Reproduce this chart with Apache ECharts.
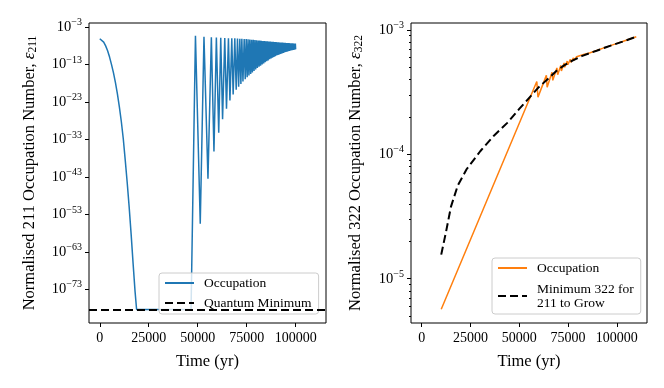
<!DOCTYPE html>
<html>
<head>
<meta charset="utf-8">
<script src="https://cdn.jsdelivr.net/npm/echarts@6/dist/echarts.min.js"></script>
<style>
  html, body { margin: 0; padding: 0; background: #fff; }
  #chart { width: 664px; height: 388px; }
</style>
</head>
<body>
<div id="chart"></div>
<script>
// all occupation values are stored as log10(value)
const timeTicks = [0, 25000, 50000, 75000, 100000];
const leftTicksExp = [-73, -63, -53, -43, -33, -23, -13, -3];
const rightTicksExp = [-5, -4, -3];
const rightMinorTicks = [5e-6, 6e-6, 7e-6, 8e-6, 9e-6,
  2e-5, 3e-5, 4e-5, 5e-5, 6e-5, 7e-5, 8e-5, 9e-5,
  2e-4, 3e-4, 4e-4, 5e-4, 6e-4, 7e-4, 8e-4, 9e-4];

const quantumMinLog = -78.4;

// 211 occupation: [time (yr), log10 eps]
const occ211 = [
  [0, -6.1], [1000, -6.4], [2000, -7.0], [3000, -8.0], [4000, -9.3], [5000, -11.0],
  [6000, -13.0], [7000, -15.2], [8000, -17.8], [9000, -20.8], [10000, -24.3],
  [11000, -28.2], [12000, -32.8], [13000, -38.5], [14000, -44.5], [15000, -51.0],
  [16000, -58.2], [17000, -66.0], [18000, -73.5], [18800, -78.4],
  [46600, -78.4], [48850, -5.3],
  [51300, -55.5], [53200, -5.6], [55240, -43.5], [56970, -5.7], [58300, -36.2],
  [59530, -5.8], [60730, -31.2], [61760, -5.85], [62700, -27.6], [63810, -5.9],
  [64700, -24.8], [65690, -5.95], [66450, -22.6], [67400, -6.0], [68100, -21.0],
  [68940, -6.0], [69650, -19.7], [70310, -6.05], [70900, -18.9], [71510, -6.1],
  [72050, -18.2], [72540, -6.1], [73100, -17.5], [73730, -6.15], [74250, -16.9],
  [74760, -6.2], [75250, -16.4], [75700, -6.25], [76150, -15.9], [76600, -6.3],
  [77050, -15.5], [77500, -6.35], [77900, -15.1], [78350, -6.4], [78750, -14.7],
  [79200, -6.45], [79600, -14.3], [80050, -6.5], [80450, -13.9], [80900, -6.55],
  [81300, -13.6], [81700, -6.6], [82100, -13.3], [82500, -6.65], [82900, -13.0],
  [83300, -6.7], [83700, -12.7], [84100, -6.72], [84450, -12.4], [84850, -6.75],
  [85200, -12.1], [85600, -6.8], [85950, -11.9], [86350, -6.83], [86700, -11.6],
  [87100, -6.86], [87450, -11.4], [87850, -6.9], [88200, -11.2], [88550, -6.93],
  [88900, -11.0], [89250, -6.96], [89600, -10.8], [89950, -7.0], [90300, -10.6],
  [90650, -7.03], [91000, -10.45], [91350, -7.06], [91700, -10.3], [92050, -7.1],
  [92350, -10.15], [92700, -7.12], [93000, -10.0], [93350, -7.15], [93650, -9.9],
  [94000, -7.18], [94300, -9.75], [94650, -7.2], [94950, -9.65], [95300, -7.23],
  [95600, -9.55], [95950, -7.26], [96250, -9.45], [96600, -7.28], [96900, -9.35],
  [97250, -7.3], [97550, -9.25], [97900, -7.33], [98200, -9.18], [98550, -7.35],
  [98850, -9.1], [99200, -7.38], [99500, -9.05], [99850, -7.4], [100000, -8.9]
];

// 322 occupation: [time (yr), log10 eps]
const occ322 = [
  [10000, -5.246], [59000, -3.415], [59600, -3.54], [63900, -3.365], [64300, -3.46],
  [66800, -3.34], [67200, -3.405], [69300, -3.305], [69700, -3.36], [71300, -3.285],
  [71600, -3.33], [73000, -3.265], [73300, -3.30], [74600, -3.25], [74900, -3.28],
  [76200, -3.237], [76500, -3.26], [77800, -3.225], [78100, -3.245], [79400, -3.215],
  [79700, -3.23], [81000, -3.207], [81300, -3.218], [83000, -3.198], [86000, -3.185],
  [90000, -3.163], [94500, -3.138], [99000, -3.114], [103000, -3.093], [110000, -3.054]
];

// minimum 322 needed for 211 to grow: [time (yr), log10 eps]
const min322 = [
  [10000, -4.806], [12500, -4.62], [15000, -4.42], [18500, -4.25], [23000, -4.12],
  [30000, -3.975], [37000, -3.85], [44000, -3.745], [50000, -3.635], [56000, -3.53],
  [60000, -3.46], [65000, -3.39], [69000, -3.33], [73000, -3.285], [77500, -3.245],
  [82000, -3.21], [86000, -3.187], [90000, -3.165], [94500, -3.139], [99000, -3.115],
  [103000, -3.094], [110000, -3.054]
];

const FONT = "'Liberation Serif', 'DejaVu Serif', serif";
const COLORS = { blue: '#1f77b4', orange: '#ff7f0e', black: '#000000' };
const LABELS = {
  occ211: 'Occupation', qmin: 'Quantum Minimum',
  occ322: 'Occupation', min322: 'Minimum 322 for\n211 to Grow'
};

const powLabel = (v) => `{b|10}{s|\u2212${Math.abs(Math.round(v))}}`;
const tickRich = {
  b: { fontFamily: FONT, fontSize: 14.5, color: '#000' },
  s: { fontFamily: FONT, fontSize: 10, color: '#000', padding: [0, 0, 9, 0] }
};

function xAxisFor(gridIndex) {
  return {
    type: 'value', gridIndex, min: -5500, max: 115500,
    name: 'Time (yr)', nameLocation: 'middle', nameGap: 30,
    nameTextStyle: { fontFamily: FONT, fontSize: 16.5, color: '#000' },
    axisLine: { show: false, onZero: false },
    axisTick: { customValues: timeTicks, length: 4, lineStyle: { color: '#000' } },
    axisLabel: {
      customValues: timeTicks, fontFamily: FONT, fontSize: 14, color: '#000', margin: 8,
      formatter: (v) => String(v)
    },
    splitLine: { show: false }
  };
}

function yName(sub) {
  return `{t|Normalised ${sub} Occupation Number, }{e|\u03b5}{s|${sub}}`;
}
const yNameStyle = {
  fontFamily: FONT, fontSize: 16.5, color: '#000',
  rich: {
    t: { fontFamily: FONT, fontSize: 16.5, color: '#000' },
    e: { fontFamily: FONT, fontSize: 17, fontStyle: 'italic', color: '#000' },
    s: { fontFamily: FONT, fontSize: 11.5, color: '#000', padding: [7, 0, 0, 0] }
  }
};

function yAxisBase(gridIndex, min, max) {
  return {
    type: 'value', gridIndex, min, max, position: 'left',
    axisLine: { show: false, onZero: false },
    splitLine: { show: false }
  };
}

function legendFor(left, top, names, gap) {
  return {
    orient: 'vertical', left, top, data: names,
    itemWidth: 29, itemHeight: 14, itemGap: gap,
    padding: [3, 7, 4, 5],
    backgroundColor: 'rgba(255,255,255,0.8)',
    borderColor: '#cccccc', borderWidth: 1, borderRadius: 3,
    itemStyle: { opacity: 0 },
    textStyle: { fontFamily: FONT, fontSize: 13.5, color: '#000', lineHeight: 14, padding: [0, 0, 0, 5] },
    formatter: (n) => LABELS[n]
  };
}

const option = {
  backgroundColor: '#ffffff',
  animation: false,
  grid: [
    { left: 89, top: 23, width: 237, height: 300, show: true, borderColor: '#000', borderWidth: 1 },
    { left: 411, top: 23, width: 236, height: 300, show: true, borderColor: '#000', borderWidth: 1 }
  ],
  xAxis: [xAxisFor(0), xAxisFor(1)],
  yAxis: [
    Object.assign(yAxisBase(0, -82.0, -1.9), {
      name: yName('211'), nameLocation: 'middle', nameGap: 50, nameRotate: 90,
      nameTextStyle: yNameStyle,
      axisTick: { customValues: leftTicksExp, length: 4, lineStyle: { color: '#000' } },
      axisLabel: { customValues: leftTicksExp, formatter: powLabel, rich: tickRich, margin: 7 }
    }),
    Object.assign(yAxisBase(1, -5.356, -2.944), {
      name: yName('322'), nameLocation: 'middle', nameGap: 46, nameRotate: 90,
      nameTextStyle: yNameStyle,
      axisTick: { customValues: rightTicksExp, length: 4, lineStyle: { color: '#000' } },
      axisLabel: { customValues: rightTicksExp, formatter: powLabel, rich: tickRich, margin: 7 }
    }),
    // minor log ticks for the right panel
    Object.assign(yAxisBase(1, -5.356, -2.944), {
      axisTick: { customValues: rightMinorTicks.map(Math.log10), length: 2, lineStyle: { color: '#000' } },
      axisLabel: { show: false }
    })
  ],
  legend: [
    legendFor(159, 273, ['occ211', 'qmin'], 6),
    legendFor(492, 258, ['occ322', 'min322'], 7)
  ],
  series: [
    {
      name: 'occ211', type: 'line', xAxisIndex: 0, yAxisIndex: 0,
      data: occ211, symbol: 'none', lineStyle: { color: COLORS.blue, width: 1.5 },
      itemStyle: { color: COLORS.blue }
    },
    {
      name: 'qmin', type: 'line', xAxisIndex: 0, yAxisIndex: 0, data: [],
      symbol: 'none', itemStyle: { color: COLORS.black },
      lineStyle: { color: COLORS.black, width: 2, type: [8, 4] },
      markLine: {
        silent: true, symbol: 'none', label: { show: false },
        lineStyle: { color: COLORS.black, width: 2, type: [8, 4] },
        data: [{ yAxis: quantumMinLog }]
      }
    },
    {
      name: 'occ322', type: 'line', xAxisIndex: 1, yAxisIndex: 1,
      data: occ322, symbol: 'none', lineStyle: { color: COLORS.orange, width: 1.5 },
      itemStyle: { color: COLORS.orange }
    },
    {
      name: 'min322', type: 'line', xAxisIndex: 1, yAxisIndex: 1,
      data: min322, symbol: 'none', itemStyle: { color: COLORS.black },
      lineStyle: { color: COLORS.black, width: 2, type: [8, 4] }
    }
  ]
};

const chart = echarts.init(document.getElementById('chart'), null, { renderer: 'canvas' });
chart.setOption(option);
</script>
</body>
</html>
